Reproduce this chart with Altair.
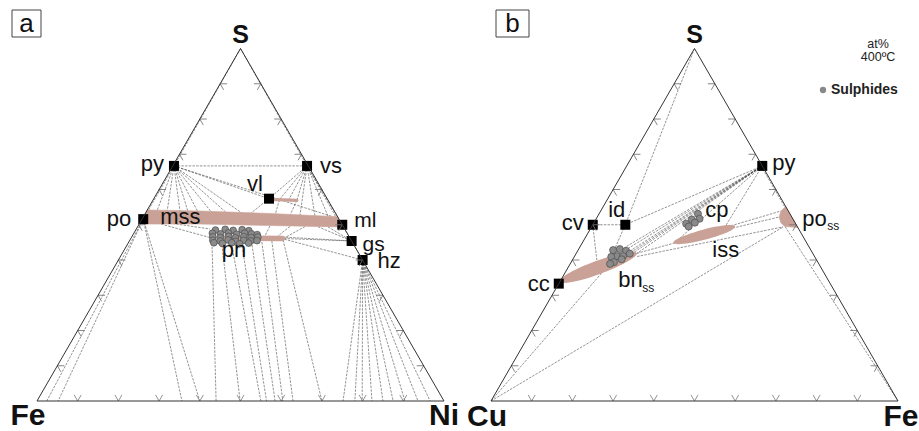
import math
import altair as alt
import pandas as pd

H = math.sqrt(3) / 2
OFF_B = 454 / 407          # left corner of the Cu–Fe–S triangle, in side lengths
X_DOMAIN = [-37 / 407, 882 / 407]
Y_DOMAIN = [-30 / 407, 401 / 407]

FONT = "Liberation Sans"
SALMON = "#c9a196"
TIE = "#4a4a4a"


def ta(S, Ni):
    """Fe–Ni–S composition (at.% S, at.% Ni) -> triangle coordinates."""
    return Ni / 100 + S / 200, S / 100 * H


def tb(S, Fe):
    """Cu–Fe–S composition (at.% S, at.% Fe) -> triangle coordinates."""
    return OFF_B + Fe / 100 + S / 200, S / 100 * H


# ---------------- (a) Fe–Ni–S ----------------
a_phase = ["py", "vs", "vl", "po", "ml", "gs", "hz"]
a_phase_S = [66.7, 66.7, 57.4, 51.6, 50.0, 45.4, 40.0]
a_phase_Ni = [0.3, 33.0, 28.3, 0.3, 50.0, 54.6, 60.0]

mss_S = [54.2, 53.9, 53.2, 52.3, 50.8, 49.4, 49.8, 50.2, 50.2]
mss_Ni = [0.0, 13.1, 30.7, 47.7, 49.0, 49.3, 32.4, 15.0, 0.0]

vl_bar_S = [57.2, 56.9]
vl_bar_Ni = [28.4, 35.4]
pn_bar_S = [46.2, 46.1]
pn_bar_Ni = [21.8, 37.2]

pn_S = [48.5, 48.7, 48.4, 48.6, 48.3,
        47.6, 47.4, 47.7, 47.3, 47.6, 47.4, 47.2,
        46.6, 46.4, 46.7, 46.3, 46.6, 46.4, 46.5,
        45.6, 45.4, 45.7, 45.3, 45.6, 45.4, 45.5,
        44.9, 44.7, 44.9, 44.6, 44.8]
pn_Ni = [19.6, 21.9, 24.0, 26.1, 27.9,
         19.3, 21.4, 23.2, 25.4, 27.2, 29.0, 30.5,
         19.9, 21.8, 23.7, 25.6, 27.5, 29.4, 31.0,
         20.4, 22.3, 24.1, 26.2, 28.0, 29.8, 31.3,
         21.0, 23.2, 25.4, 27.5, 29.6]

# tie lines: (S1, Ni1, S2, Ni2)
a_ties = [
    (100, 0, 66.7, 0.3), (100, 0, 66.7, 33.0),
    (66.7, 0.3, 66.7, 33.0), (66.7, 0.3, 51.6, 0.3), (66.7, 33.0, 50.0, 50.0),
    (66.7, 0.3, 54.1, 2.5), (66.7, 0.3, 54.0, 5.0), (66.7, 0.3, 53.7, 8.3),
    (66.7, 0.3, 53.65, 10.3), (66.7, 0.3, 53.56, 12.8), (66.7, 0.3, 53.4, 16.3),
    (66.7, 0.3, 53.3, 20.0), (66.7, 0.3, 53.1, 24.1), (66.7, 0.3, 57.4, 28.3),
    (66.7, 0.3, 52.3, 46.5),
    (66.7, 33.0, 57.4, 28.3), (66.7, 33.0, 57.1, 31.0), (66.7, 33.0, 57.0, 33.3),
    (66.7, 33.0, 56.9, 35.4), (66.7, 33.0, 52.6, 38.3), (66.7, 33.0, 52.4, 42.1),
    (66.7, 33.0, 52.3, 45.4), (66.7, 33.0, 52.25, 47.3),
    (57.4, 28.3, 53.1, 25.8), (57.1, 31.0, 52.85, 32.1), (56.9, 35.4, 52.7, 35.8),
    (51.6, 0.3, 48.8, 18.1), (51.6, 0.3, 46.2, 19.9),
    (49.65, 32.4, 46.8, 32.6), (49.56, 37.4, 46.8, 35.8), (49.5, 41.1, 46.2, 37.6),
    (49.45, 44.3, 45.4, 54.6), (49.4, 46.8, 45.4, 54.6), (50.0, 50.0, 45.4, 54.6),
    (45.4, 54.6, 40.0, 60.0),
    (46.1, 37.6, 45.4, 54.6), (46.6, 36.0, 45.4, 54.6), (45.9, 37.8, 40.0, 60.0),
    (51.6, 0.3, 0, 2.4), (51.6, 0.3, 0, 5.2), (51.6, 0.3, 0, 35.6), (51.6, 0.3, 0, 40.0),
    (44.8, 20.6, 0, 44.0), (44.26, 23.3, 0, 49.9), (43.97, 25.9, 0, 55.0),
    (43.97, 28.4, 0, 56.4), (44.26, 30.7, 0, 58.5), (45.1, 32.7, 0, 60.4),
    (45.4, 35.0, 0, 62.9), (45.7, 37.6, 0, 70.0),
    (40, 60, 0, 75.2), (40, 60, 0, 78.1), (40, 60, 0, 79.9), (40, 60, 0, 82.3),
    (40, 60, 0, 85.0), (40, 60, 0, 87.5), (40, 60, 0, 90.4), (40, 60, 0, 93.6),
    (40, 60, 0, 96.6),
]

# ---------------- (b) Cu–Fe–S ----------------
b_phase = ["py", "cv", "id", "cc"]
b_phase_S = [66.7, 50.0, 50.0, 33.3]
b_phase_Fe = [33.3, 0.0, 8.0, 0.0]

po_ss_S = [55.2, 53.9, 52.2, 50.5, 49.5, 49.2]
po_ss_Fe = [44.8, 44.3, 44.7, 46.0, 47.5, 50.8]

bn_ss_centre = (37.9, 7.4)
iss_centre = (47.2, 28.8)

cp_S = [53.1, 51.5, 51.7, 50.3, 50.6, 49.5]
cp_Fe = [24.3, 23.6, 25.4, 22.8, 24.8, 23.8]
bn_S = [42.8, 43.1, 42.6, 41.1, 41.1, 40.9, 39.4, 38.9, 41.8, 40.2]
bn_Fe = [8.6, 10.1, 11.9, 10.4, 11.9, 9.1, 10.5, 9.8, 13.2, 12.0]

# tie lines: (S1, Fe1, S2, Fe2)
b_ties = [
    (100, 0, 50, 8), (50, 8, 40.9, 9.1), (50, 0, 50, 8), (50, 0, 40.0, 6.0),
    (0, 0, 39.4, 9.8), (0, 0, 49.4, 47.1),
    (66.7, 33.3, 50, 8),
    (66.7, 33.3, 43.5, 11.0), (66.7, 33.3, 43.1, 11.9), (66.7, 33.3, 42.6, 12.9),
    (66.7, 33.3, 42.3, 13.4), (66.7, 33.3, 42.0, 13.9), (66.7, 33.3, 41.7, 14.8),
    (66.7, 33.3, 44.8, 22.6), (66.7, 33.3, 49.4, 32.8),
    (41.9, 14.9, 44.8, 22.6), (41.0, 15.4, 49.4, 47.1),
    (49.3, 35.6, 52.2, 44.7), (48.8, 31.9, 53.9, 44.3),
    (66.7, 33.0, 55.2, 44.5), (49.5, 47.5, 0, 100),
]

tick_values = [10, 20, 30, 40, 50, 60, 70, 80, 90]

# ---------------- build tables ----------------
xs = alt.Scale(domain=X_DOMAIN, nice=False, zero=False)
ys = alt.Scale(domain=Y_DOMAIN, nice=False, zero=False)
X = alt.X("x:Q", scale=xs, axis=None)
Y = alt.Y("y:Q", scale=ys, axis=None)


def seg_rows(ties, conv):
    rows = []
    for s1, r1, s2, r2 in ties:
        x1, y1 = conv(s1, r1)
        x2, y2 = conv(s2, r2)
        rows.append({"x": x1, "y": y1, "x2": x2, "y2": y2})
    return rows


tie_df = pd.DataFrame(seg_rows(a_ties, ta) + seg_rows(b_ties, tb))

corner_segments = [(0, 0, 0, 100), (0, 100, 100, 0), (100, 0, 0, 0)]
edge_df = pd.DataFrame(seg_rows(corner_segments, ta) + seg_rows(corner_segments, tb))

tick_rows = []
for conv in (ta, tb):
    for v in tick_values:
        for S, R, ang in ((0, v, 0), (v, 0, 120), (v, 100 - v, 240)):
            x, y = conv(S, R)
            tick_rows.append({"x": x, "y": y, "ang": ang})
tick_df = pd.DataFrame(tick_rows)


def poly_df(S_list, R_list, conv):
    pts = [conv(s, r) for s, r in zip(S_list, R_list)]
    pts.append(pts[0])
    return pd.DataFrame({"x": [p[0] for p in pts], "y": [p[1] for p in pts],
                         "i": list(range(len(pts)))})


def pts_df(S_list, R_list, conv):
    pts = [conv(s, r) for s, r in zip(S_list, R_list)]
    return pd.DataFrame({"x": [p[0] for p in pts], "y": [p[1] for p in pts]})


mss_df = poly_df(mss_S, mss_Ni, ta)
po_ss_df = poly_df(po_ss_S, po_ss_Fe, tb)
vl_bar_df = pts_df(vl_bar_S, vl_bar_Ni, ta)
pn_bar_df = pts_df(pn_bar_S, pn_bar_Ni, ta)
pn_df = pts_df(pn_S, pn_Ni, ta)
cp_df = pts_df(cp_S, cp_Fe, tb)
bn_df = pts_df(bn_S, bn_Fe, tb)
sq_df = pd.concat([pts_df(a_phase_S, a_phase_Ni, ta), pts_df(b_phase_S, b_phase_Fe, tb)])


def ellipse_path(r):
    k = 0.5523
    return (f"M 1 0 C 1 {k*r:.4f} {k} {r} 0 {r} C {-k} {r} -1 {k*r:.4f} -1 0 "
            f"C -1 {-k*r:.4f} {-k} {-r} 0 {-r} C {k} {-r} 1 {-k*r:.4f} 1 0 Z")


V_TICK = "M -0.5 -0.866 L 0 0 L 0.5 -0.866"

layers = []

layers.append(alt.Chart(tie_df).mark_rule(color=TIE, strokeWidth=0.6, strokeDash=[2.5, 1.2])
              .encode(x=X, y=Y, x2="x2:Q", y2="y2:Q"))

for df in (mss_df, po_ss_df):
    layers.append(alt.Chart(df).mark_line(fill=SALMON, stroke=SALMON, strokeWidth=0.6,
                                          strokeJoin="round")
                  .encode(x=X, y=Y, order="i:Q"))

layers.append(alt.Chart(vl_bar_df).mark_line(color=SALMON, strokeWidth=3.3, strokeCap="round")
              .encode(x=X, y=Y))
layers.append(alt.Chart(pn_bar_df).mark_line(color=SALMON, strokeWidth=5.5, strokeCap="round")
              .encode(x=X, y=Y))

for centre, r, half_len, ang in ((bn_ss_centre, 0.165, 41, 339.7), (iss_centre, 0.16, 32, 345.3)):
    cx, cy = tb(*centre)
    layers.append(alt.Chart(pd.DataFrame({"x": [cx], "y": [cy]}))
                  .mark_point(shape=ellipse_path(r), size=(2 * half_len) ** 2, filled=True,
                              color=SALMON, opacity=1, strokeWidth=0, angle=ang)
                  .encode(x=X, y=Y))

for df, size in ((pn_df, 46), (cp_df, 50), (bn_df, 50)):
    layers.append(alt.Chart(df).mark_circle(size=size, color="#8a8a8a", stroke="#4d4d4d",
                                            strokeWidth=0.7, opacity=1)
                  .encode(x=X, y=Y))

layers.append(alt.Chart(sq_df).mark_square(size=100, color="black", opacity=1)
              .encode(x=X, y=Y))

layers.append(alt.Chart(tick_df).mark_point(shape=V_TICK, size=196, filled=False, color="#777",
                                            strokeWidth=0.8, opacity=1)
              .encode(x=X, y=Y, angle=alt.Angle("ang:Q", scale=None)))

layers.append(alt.Chart(edge_df).mark_rule(color="#333", strokeWidth=1)
              .encode(x=X, y=Y, x2="x2:Q", y2="y2:Q"))


def label(text, pos, dx=0, dy=0, size=22, align="left", weight="normal"):
    x, y = pos
    return (alt.Chart(pd.DataFrame({"x": [x], "y": [y], "t": [text]}))
            .mark_text(dx=dx, dy=dy, fontSize=size, align=align, baseline="alphabetic",
                       font=FONT, fontWeight=weight, color="#111")
            .encode(x=X, y=Y, text="t:N"))


A = {n: ta(s, r) for n, s, r in zip(a_phase, a_phase_S, a_phase_Ni)}
B = {n: tb(s, r) for n, s, r in zip(b_phase, b_phase_S, b_phase_Fe)}

layers += [
    label("py", A["py"], dx=-10, dy=5, align="right"),
    label("vs", A["vs"], dx=13, dy=7),
    label("vl", A["vl"], dx=-6, dy=-8, align="right"),
    label("po", A["po"], dx=-12, dy=7, align="right"),
    label("mss", A["po"], dx=17, dy=5),
    label("ml", A["ml"], dx=12, dy=2, size=21),
    label("gs", A["gs"], dx=11, dy=10, size=21),
    label("hz", A["hz"], dx=15, dy=8),
    label("pn", ta(pn_bar_S[0], pn_bar_Ni[0]), dx=2, dy=19),
    label("py", B["py"], dx=10, dy=4),
    label("cv", B["cv"], dx=-9, dy=5, align="right"),
    label("id", B["id"], dx=0, dy=-8, align="right"),
    label("cc", B["cc"], dx=-9, dy=7, align="right"),
    label("cp", tb(cp_S[3], cp_Fe[3]), dx=19, dy=-7),
    label("po", tb(po_ss_S[2], po_ss_Fe[2]), dx=23, dy=9),
    label("ss", tb(po_ss_S[2], po_ss_Fe[2]), dx=48, dy=13, size=12),
    label("iss", tb(*iss_centre), dx=8, dy=22),
    label("bn", tb(*bn_ss_centre), dx=20, dy=19.5),
    label("ss", tb(*bn_ss_centre), dx=44, dy=24.5, size=12),
    # corner components
    label("S", ta(100, 0), dy=-6, size=25, align="center", weight="bold"),
    label("Fe", ta(0, 0), dx=-9, dy=24, size=30, align="center", weight="bold"),
    label("Ni", ta(0, 100), dy=24, size=30, align="center", weight="bold"),
    label("S", tb(100, 0), dy=-6, size=25, align="center", weight="bold"),
    label("Cu", tb(0, 0), dx=-4, dy=25, size=30, align="center", weight="bold"),
    label("Fe", tb(0, 100), dx=3, dy=25, size=30, align="center", weight="bold"),
]

one = pd.DataFrame({"k": [0]})
for x0, x1, txt in ((12, 41, "a"), (496, 529, "b")):
    layers.append(alt.Chart(one).mark_rect(fill="white", stroke="#444", strokeWidth=1)
                  .encode(x=alt.value(x0), x2=alt.value(x1), y=alt.value(10), y2=alt.value(37)))
    layers.append(alt.Chart(one).mark_text(text=txt, fontSize=26, font=FONT, align="center",
                                           baseline="alphabetic", color="#111")
                  .encode(x=alt.value((x0 + x1) / 2), y=alt.value(32)))

layers.append(alt.Chart(one).mark_text(text="at%", fontSize=12.5, font=FONT, align="center",
                                       baseline="alphabetic", color="#222")
              .encode(x=alt.value(878), y=alt.value(48)))
layers.append(alt.Chart(one).mark_text(text="400ºC", fontSize=12.5, font=FONT, align="center",
                                       baseline="alphabetic", color="#222")
              .encode(x=alt.value(878), y=alt.value(61)))
layers.append(alt.Chart(one).mark_circle(size=40, color="#888", opacity=1)
              .encode(x=alt.value(823), y=alt.value(90)))
layers.append(alt.Chart(one).mark_text(text="Sulphides", fontSize=14, font=FONT,
                                       fontWeight="bold", align="left", baseline="middle",
                                       color="#222")
              .encode(x=alt.value(831), y=alt.value(90)))

chart = (alt.layer(*layers)
         .properties(width=919, height=431, padding=0, background="white",
                     autosize=alt.AutoSizeParams(type="none"))
         .configure_view(stroke=None))

chart.save("out.html", embed_options={"renderer": "svg", "actions": False})
